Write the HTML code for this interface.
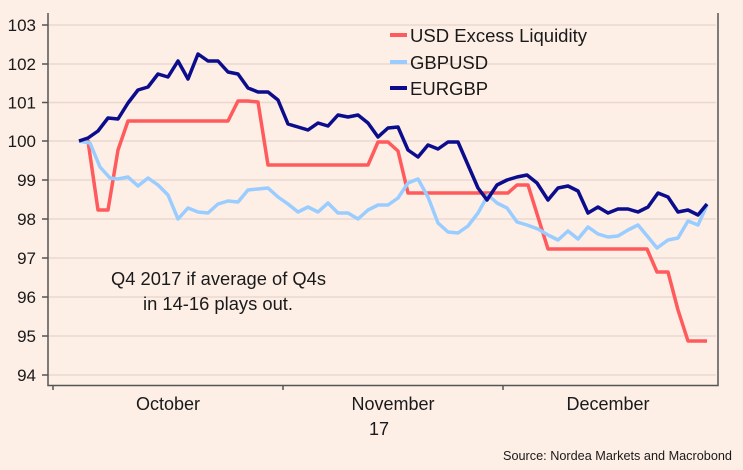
<!DOCTYPE html>
<html><head><meta charset="utf-8"><style>
html,body{margin:0;padding:0;background:#fdeee6;}
svg{display:block;}
text{font-family:"Liberation Sans",sans-serif;fill:#1a1a1a;}
</style></head><body>
<svg width="743" height="470" viewBox="0 0 743 470" xmlns="http://www.w3.org/2000/svg">
<rect width="743" height="470" fill="#fdeee6"/>
<g stroke="#ead8cf" stroke-width="1.5">
<line x1="48" y1="25" x2="716" y2="25"/>
<line x1="48" y1="64" x2="716" y2="64"/>
<line x1="48" y1="102.5" x2="716" y2="102.5"/>
<line x1="48" y1="141" x2="716" y2="141"/>
<line x1="48" y1="180" x2="716" y2="180"/>
<line x1="48" y1="219" x2="716" y2="219"/>
<line x1="48" y1="258" x2="716" y2="258"/>
<line x1="48" y1="297" x2="716" y2="297"/>
<line x1="48" y1="336" x2="716" y2="336"/>
<line x1="48" y1="375" x2="716" y2="375"/>
</g>
<g stroke="#555" stroke-width="1.5" fill="none">
<polyline points="48,13 48,385.5 718,385.5 718,13"/>
<line x1="42" y1="25" x2="48" y2="25"/>
<line x1="42" y1="64" x2="48" y2="64"/>
<line x1="42" y1="102.5" x2="48" y2="102.5"/>
<line x1="42" y1="141" x2="48" y2="141"/>
<line x1="42" y1="180" x2="48" y2="180"/>
<line x1="42" y1="219" x2="48" y2="219"/>
<line x1="42" y1="258" x2="48" y2="258"/>
<line x1="42" y1="297" x2="48" y2="297"/>
<line x1="42" y1="336" x2="48" y2="336"/>
<line x1="42" y1="375" x2="48" y2="375"/>
<line x1="53" y1="385" x2="53" y2="390"/>
<line x1="283" y1="385" x2="283" y2="390"/>
<line x1="503" y1="385" x2="503" y2="390"/>
</g>
<g font-size="17" text-anchor="end">
<text x="36" y="31">103</text>
<text x="36" y="70">102</text>
<text x="36" y="108.5">101</text>
<text x="36" y="147">100</text>
<text x="36" y="186">99</text>
<text x="36" y="225">98</text>
<text x="36" y="264">97</text>
<text x="36" y="303">96</text>
<text x="36" y="342">95</text>
<text x="36" y="381">94</text>
</g>
<g font-size="18" text-anchor="middle">
<text x="168" y="410">October</text>
<text x="393" y="410">November</text>
<text x="379" y="435">17</text>
<text x="608" y="410">December</text>
</g>
<text x="503" y="460" font-size="13" textLength="229" lengthAdjust="spacingAndGlyphs">Source: Nordea Markets and Macrobond</text>
<text x="111" y="285" font-size="18" textLength="215" lengthAdjust="spacingAndGlyphs">Q4 2017 if average of Q4s</text>
<text x="143" y="310" font-size="18" textLength="150" lengthAdjust="spacingAndGlyphs">in 14-16 plays out.</text>
<g fill="none" stroke-width="3.5" stroke-linejoin="round" stroke-linecap="butt">
<polyline stroke="#ff5a5c" points="79,141 88,141 98,210 108,210 118,150 128,121 228,121 238,101 248,101 258,102 268,165 368,165 378,142 388,142 398,151 408,193 508,193 517,185 528,185 548,249 647,249 657,272 668,272 678,310 688,341 707,341"/>
<polyline stroke="#9acdff" points="79,141 90,143 100,167 110,178 118,179 128,177 138,186 148,178 158,185 168,195 178,219 188,208 198,212 208,213 218,204 228,201 238,202 248,190 258,189 268,188 278,197 288,204 298,212 308,207 318,212 328,203 338,213 348,213 358,219 368,210 378,205 388,205 398,198 408,183 418,179 428,197 438,223 448,232 458,233 468,226 478,213 488,195 497,203 507,208 517,222 527,225 538,229 548,235 558,240 568,231 578,239 588,227 598,234 608,237 618,236 628,230 638,225 648,237 657,248 668,240 678,238 688,221 698,225 707,205"/>
<polyline stroke="#0b0d8c" points="79,141 88,138 98,131 108,118 118,119 128,103 138,90 148,87 158,74 168,77 178,61 188,79 198,54 208,61 218,61 228,72 238,74 248,88 258,92 268,92 278,100 288,124 298,127 308,130 318,123 328,126 338,115 348,117 358,115 368,123 378,137 388,128 398,127 408,150 418,157 428,145 438,149 448,142 458,142 468,165 478,188 487,200 497,185 507,180 517,177 527,175 537,183 548,200 558,188 568,186 578,191 588,213 598,207 608,213 618,209 628,209 638,212 648,207 658,193 668,197 678,212 688,210 698,215 707,204"/>
</g>
<g stroke-width="4">
<line x1="390" y1="35" x2="407" y2="35" stroke="#ff5a5c"/>
<line x1="390" y1="62" x2="407" y2="62" stroke="#9acdff"/>
<line x1="390" y1="88" x2="407" y2="88" stroke="#0b0d8c"/>
</g>
<g font-size="18.5">
<text x="410" y="42" textLength="177" lengthAdjust="spacingAndGlyphs">USD Excess Liquidity</text>
<text x="410" y="69">GBPUSD</text>
<text x="410" y="95">EURGBP</text>
</g>
</svg>
</body></html>
